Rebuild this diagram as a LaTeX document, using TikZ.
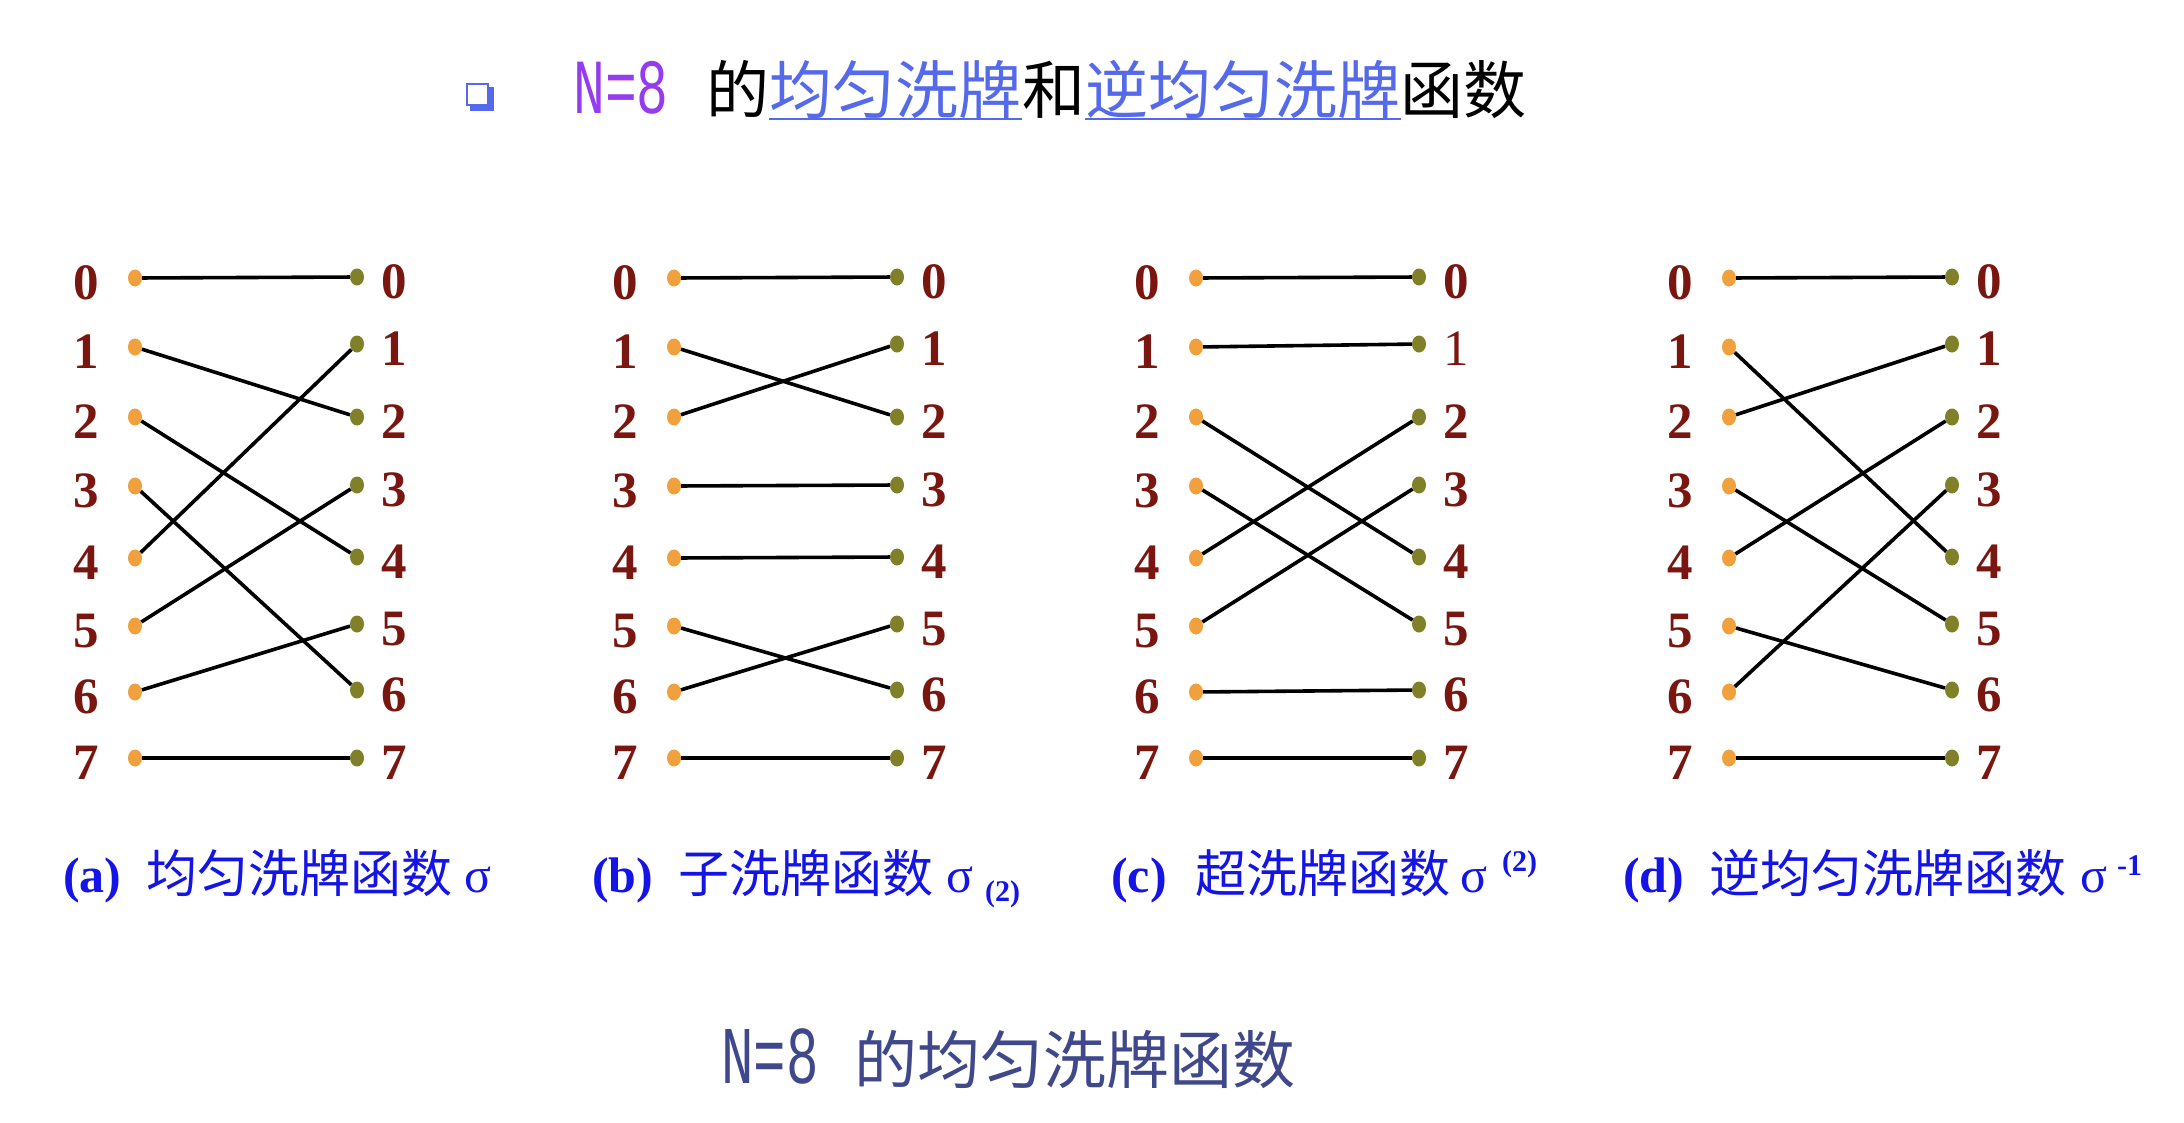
\documentclass[tikz,border=0pt]{standalone}
\usepackage{fontspec}
\setmainfont{Liberation Serif}
\newfontfamily\cjk{Noto Sans CJK SC}
\newfontfamily\monof{Liberation Mono}
\usetikzlibrary{shapes.geometric}
\definecolor{digitc}{RGB}{122,22,16}
\definecolor{ldotc}{RGB}{240,160,60}
\definecolor{rdotc}{RGB}{128,128,40}
\definecolor{capblue}{RGB}{20,20,230}
\definecolor{tblue}{RGB}{85,105,235}
\definecolor{tpurple}{RGB}{150,60,240}
\definecolor{botblue}{RGB}{64,72,140}
\tikzset{
  ldotst/.style={ellipse, fill=ldotc, minimum width=14pt, minimum height=17pt, inner sep=0pt},
  rdotst/.style={ellipse, fill=rdotc, minimum width=14pt, minimum height=17pt, inner sep=0pt},
  digitst/.style={text=digitc, font=\fontsize{51}{51}\selectfont\bfseries, inner sep=0pt},
  link/.style={line width=3.6pt, black},
  capbold/.style={text=capblue, inner sep=0pt, anchor=base west, font=\fontsize{50}{50}\selectfont\bfseries},
  capcjk/.style={text=capblue, inner sep=0pt, anchor=base west, font=\fontsize{51}{51}\selectfont\cjk},
  capsig/.style={text=capblue, inner sep=0pt, anchor=base west, font=\fontsize{50}{50}\selectfont},
  capsmall/.style={text=capblue, inner sep=0pt, anchor=base west, font=\fontsize{30}{30}\selectfont\bfseries},
  tcjk/.style={inner sep=0pt, anchor=base west, font=\fontsize{63}{63}\selectfont\cjk},
  ulinest/.style={tblue, line width=2.5pt}
}
\newcommand\drawpanel[5]{%
  \foreach \i/\ly/\ry in {0/278/277,1/347/344,2/417/417,3/486/485,4/558/557,5/626/624,6/692/690,7/758/758} {
    \node[ldotst] (#1l\i) at (#2,\ly) {};
    \node[rdotst] (#1r\i) at (#3,\ry) {};
    \node[digitst] (#1ln\i) at (#2-49,\ly+5) {\i};
    \node[digitst] (#1rn\i) at (#3+37,\ry+5) {\ifnum\i=1 #5\fi\i};
  }
  \foreach \s/\t in {#4} \draw[link] (#1l\s) -- (#1r\t);
}
\begin{document}
\begin{tikzpicture}[x=1pt,y=-1pt]
\useasboundingbox[fill=white] (0,0) rectangle (2184,1122);

% title bullet
\fill[tblue] (470,87) rectangle (494,111);
\draw[tblue, fill=white, line width=2.5pt] (467,84) rectangle (488,105);

% title
\node[inner sep=0pt, anchor=base west, text=tpurple] (tn) at (573,113)
  {\scalebox{0.68}[1]{\monof\fontsize{78}{78}\selectfont N=8}};
\node[tcjk] (t1) at (706,113) {的};
\node[tcjk, text=tblue] (t2) at (t1.base east) {均匀洗牌};
\node[tcjk] (t3) at (t2.base east) {和};
\node[tcjk, text=tblue] (t4) at (t3.base east) {逆均匀洗牌};
\node[tcjk] (t5) at (t4.base east) {函数};
\draw[ulinest] ([yshift=-6pt]t2.base west) -- ([yshift=-6pt]t2.base east);
\draw[ulinest] ([yshift=-6pt]t4.base west) -- ([yshift=-6pt]t4.base east);

% panels
\drawpanel{a}{135}{357}{0/0,1/2,2/4,3/6,4/1,5/3,6/5,7/7}{}
\drawpanel{b}{674}{897}{0/0,1/2,2/1,3/3,4/4,5/6,6/5,7/7}{}
\drawpanel{c}{1196}{1419}{0/0,1/1,2/4,3/5,4/2,5/3,6/6,7/7}{\mdseries}
\drawpanel{d}{1729}{1952}{0/0,1/4,2/1,3/5,4/2,5/6,6/3,7/7}{}

% captions
\node[capbold] (ca1) at (63,892) {(a)};
\node[capcjk] (ca2) at (146,892) {均匀洗牌函数};
\node[capsig] (ca3) at (464,892) {σ};

\node[capbold] (cb1) at (592,892) {(b)};
\node[capcjk] (cb2) at (678,892) {子洗牌函数};
\node[capsig] (cb3) at (946,892) {σ};
\node[capsmall] (cb4) at (985,901) {(2)};

\node[capbold] (cc1) at (1111,892) {(c)};
\node[capcjk] (cc2) at (1195,892) {超洗牌函数};
\node[capsig] (cc3) at (1460,892) {σ};
\node[capsmall] (cc4) at (1502,871) {(2)};

\node[capbold] (cd1) at (1623,892) {(d)};
\node[capcjk] (cd2) at (1709,892) {逆均匀洗牌函数};
\node[capsig] (cd3) at (2080,892) {σ};
\node[capsmall] (cd4) at (2117,875) {-1};

% bottom caption
\node[inner sep=0pt, anchor=base west, text=botblue] (bn) at (721,1083)
  {\scalebox{0.66}[1]{\monof\fontsize{82}{82}\selectfont N=8}};
\node[tcjk, text=botblue] (bc) at (854,1083) {的均匀洗牌函数};
\end{tikzpicture}
\end{document}
